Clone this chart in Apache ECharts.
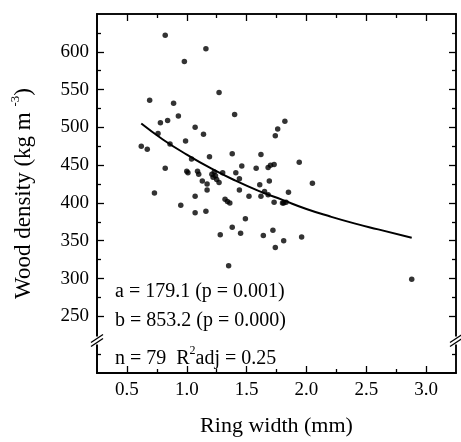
<!DOCTYPE html>
<html><head><meta charset="utf-8">
<script src="https://cdn.jsdelivr.net/npm/echarts@6/dist/echarts.min.js"></script>
<style>html,body{margin:0;padding:0;background:#fff}#c{width:461px;height:442px}</style>
</head><body><div id="c"></div>
<script>
// Ring width (mm) of each tree
const ringWidth = [0.82,1.16,0.98,0.69,1.27,0.89,0.93,1.40,0.78,0.84,
  1.07,0.76,1.14,0.99,0.62,0.67,0.86,1.19,1.38,0.82,
  1.04,1.00,1.01,1.09,1.10,1.13,1.17,1.17,1.21,1.22,
  1.24,1.25,1.27,1.23,1.30,1.46,1.41,1.44,1.44,1.58,
  0.73,1.07,1.32,1.34,1.36,1.52,1.82,1.76,1.74,1.62,
  1.68,1.70,1.73,1.94,2.05,1.69,1.61,1.85,1.65,1.68,
  1.62,1.73,1.80,1.81,1.83,1.49,1.38,1.28,1.45,1.64,
  1.72,1.81,1.96,1.74,1.35,0.95,1.07,1.16,2.88];
// Wood density (kg m-3) of each tree
const woodDensity = [622,604,587,536,546,532,515,517,506,509,
  500,492,491,482,475,471,478,461,465,446,
  458,442,440,442,438,429,425,417,438,434,
  436,431,427,441,440,449,440,432,417,446,
  413,409,405,402,400,409,508,498,489,464,
  447,450,451,454,426,429,424,414,415,411,
  409,401,400,400,401,379,368,358,360,357,
  364,350,355,341,317,397,387,389,299];
// fitted curve
const fitX = [0.62,0.8,1.0,1.2,1.4,1.6,1.8,2.0,2.2,2.4,2.6,2.88];
const fitY = [505,484,464,446,430,416,404,392,382,373,365,354];
// tick values
const xTickSlots = ['0.25','0.5','0.75','1.0','1.25','1.5','1.75','2.0','2.25','2.5','2.75','3.0','3.25'];
const xMajorTicks = [0.5,1.0,1.5,2.0,2.5,3.0];
const xMinorTicks = [0.75,1.25,1.75,2.25,2.75];
const yTickSlots = ['175','200','225','250','275','300','325','350','375','400','425','450','475','500','525','550','575','600','625','650'];
const yMajorTicks = [250,300,350,400,450,500,550,600];
const yMinorTicks = [200,275,325,375,425,475,525,575,625];
const statLines = ['a = 179.1 (p = 0.001)','b = 853.2 (p = 0.000)'];

const FF = "'Liberation Serif','Times New Roman',serif";
const chart = echarts.init(document.getElementById('c'));
function axLine(){return {show:true,onZero:false,lineStyle:{color:'#000',width:1.5}};}
const noLab = {show:false};
const labStyle = {color:'#000',fontFamily:FF,fontSize:19};
function has(list){return (i,v)=>list.some(t=>Math.abs(t-parseFloat(v))<1e-6);}
function catAxis(slots,pos,list,len){
  return {type:'category',data:slots,boundaryGap:false,position:pos,axisLine:axLine(),axisLabel:noLab,
    splitLine:{show:false},
    axisTick:{show:true,inside:true,length:len,interval:has(list),lineStyle:{color:'#000',width:1.3}}};
}

chart.setOption({
  animation:false,
  backgroundColor:'#fff',
  grid:{left:97,right:5,top:14,bottom:66},
  xAxis:[
    {type:'value',min:0.25,max:3.25,position:'bottom',axisLine:axLine(),axisTick:{show:false},splitLine:{show:false},
      axisLabel:Object.assign({customValues:xMajorTicks,formatter:v=>v.toFixed(1),margin:8},labStyle),
      name:'Ring width (mm)',nameLocation:'middle',nameGap:42,
      nameTextStyle:{color:'#000',fontFamily:FF,fontSize:22}},
    catAxis(xTickSlots,'top',xMajorTicks,7),
    catAxis(xTickSlots,'bottom',xMajorTicks,7),
    catAxis(xTickSlots,'bottom',xMinorTicks,4),
    catAxis(xTickSlots,'top',xMinorTicks,4)
  ],
  yAxis:[
    {type:'value',min:175,max:650,position:'left',axisLine:axLine(),axisTick:{show:false},splitLine:{show:false},
      axisLabel:Object.assign({customValues:yMajorTicks,margin:8},labStyle),
      name:'{a|Wood density (kg m }{s|-3}{a|)}',nameLocation:'middle',nameGap:62,nameRotate:90,
      nameTextStyle:{color:'#000',fontFamily:FF,fontSize:23,
        rich:{a:{fontFamily:FF,fontSize:23,color:'#000',verticalAlign:'bottom',lineHeight:26},
              s:{fontFamily:FF,fontSize:13,color:'#000',verticalAlign:'top',lineHeight:26}}}},
    catAxis(yTickSlots,'right',yMajorTicks,7),
    catAxis(yTickSlots,'left',yMajorTicks,7),
    catAxis(yTickSlots,'left',yMinorTicks,4),
    catAxis(yTickSlots,'right',yMinorTicks,4)
  ],
  series:[
    {type:'scatter',xAxisIndex:0,yAxisIndex:0,symbol:'circle',symbolSize:5.5,
     itemStyle:{color:'#000'},data:ringWidth.map((x,i)=>[x,woodDensity[i]])},
    {type:'line',xAxisIndex:0,yAxisIndex:0,showSymbol:false,smooth:true,
     lineStyle:{color:'#000',width:2},data:fitX.map((x,i)=>[x,fitY[i]])}
  ]
});

// axis-break marks and statistics text
const breakVal = 218;
const yb = chart.convertToPixel({yAxisIndex:0},breakVal);
const xl = chart.convertToPixel({xAxisIndex:0},0.25);
const xr = chart.convertToPixel({xAxisIndex:0},3.25);
function brk(x){
  return [
    {type:'rect',shape:{x:x-3,y:yb-4,width:6,height:8},style:{fill:'#fff'},z:100},
    {type:'line',shape:{x1:x-6,y1:yb+2,x2:x+6,y2:yb-6},style:{stroke:'#000',lineWidth:1.3},z:101},
    {type:'line',shape:{x1:x-6,y1:yb+6,x2:x+6,y2:yb-2},style:{stroke:'#000',lineWidth:1.3},z:101}
  ];
}
const textStyle = {fill:'#000',font:"20px "+FF};
chart.setOption({graphic:[].concat(brk(xl),brk(xr),[
  {type:'text',left:115,top:282,style:Object.assign({text:statLines[0]},textStyle)},
  {type:'text',left:115,top:311,style:Object.assign({text:statLines[1]},textStyle)},
  {type:'text',left:115,top:345,style:{text:'{a|n = 79  R}{s|2}{a|adj = 0.25}',
    rich:{a:{fill:'#000',fontFamily:FF,fontSize:20,verticalAlign:'bottom',lineHeight:24},
          s:{fill:'#000',fontFamily:FF,fontSize:12,verticalAlign:'top',lineHeight:24}}}}
])});
</script></body></html>
